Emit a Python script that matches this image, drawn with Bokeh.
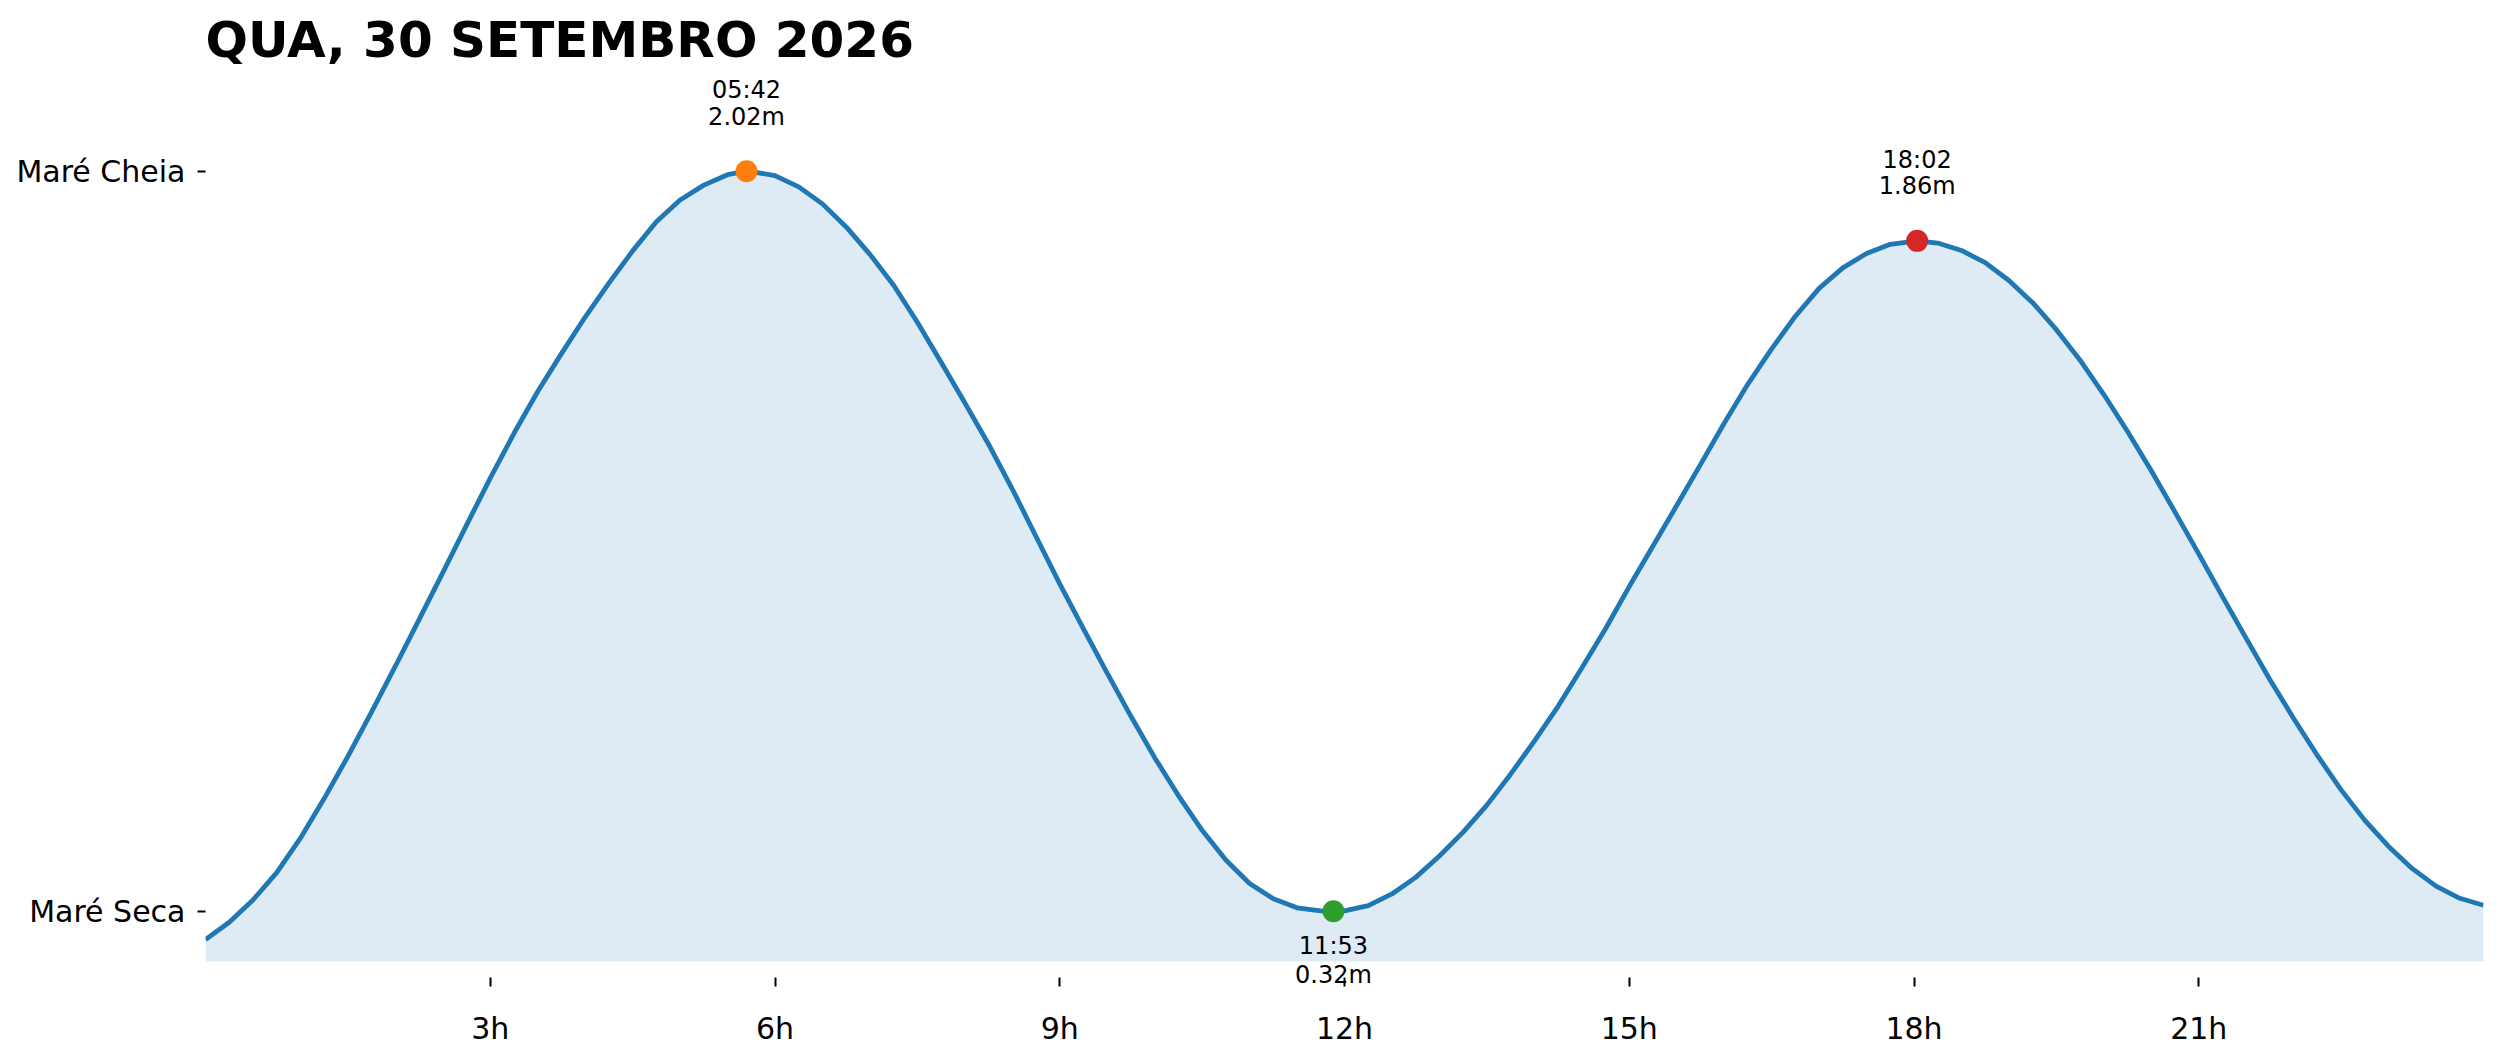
from bokeh.plotting import figure
from bokeh.models import Label, FixedTicker, Range1d
from bokeh.embed import file_html
from bokeh.resources import INLINE

# ---------------- data ----------------
TITLE = "QUA, 30 SETEMBRO 2026"

# tide height (m) every quarter hour
curve_hours = [0.00, 0.25, 0.50, 0.75, 1.00, 1.25, 1.50, 1.75, 2.00, 2.25, 2.50, 2.75,
               3.00, 3.25, 3.50, 3.75, 4.00, 4.25, 4.50, 4.75, 5.00, 5.25, 5.50, 5.75,
               6.00, 6.25, 6.50, 6.75, 7.00, 7.25, 7.50, 7.75, 8.00, 8.25, 8.50, 8.75,
               9.00, 9.25, 9.50, 9.75, 10.00, 10.25, 10.50, 10.75, 11.00, 11.25, 11.50, 11.75,
               12.00, 12.25, 12.50, 12.75, 13.00, 13.25, 13.50, 13.75, 14.00, 14.25, 14.50, 14.75,
               15.00, 15.25, 15.50, 15.75, 16.00, 16.25, 16.50, 16.75, 17.00, 17.25, 17.50, 17.75,
               18.25, 18.50, 18.75, 19.00, 19.25, 19.50, 19.75, 20.00, 20.25, 20.50, 20.75,
               21.00, 21.25, 21.50, 21.75, 22.00, 22.25, 22.50, 22.75, 23.00, 23.25, 23.50, 23.75, 24.00]
curve_heights = [0.255, 0.295, 0.346, 0.409, 0.488, 0.579, 0.676, 0.778, 0.883, 0.990, 1.098, 1.207,
                 1.315, 1.418, 1.514, 1.601, 1.685, 1.763, 1.837, 1.904, 1.954, 1.988, 2.012, 2.019,
                 2.010, 1.984, 1.945, 1.892, 1.829, 1.758, 1.673, 1.581, 1.488, 1.393, 1.290, 1.181,
                 1.072, 0.969, 0.867, 0.768, 0.673, 0.586, 0.506, 0.438, 0.384, 0.349, 0.328, 0.321,
                 0.321, 0.333, 0.360, 0.398, 0.447, 0.502, 0.564, 0.635, 0.711, 0.791, 0.879, 0.969,
                 1.066, 1.159, 1.252, 1.346, 1.441, 1.531, 1.612, 1.687, 1.751, 1.798, 1.831, 1.852,
                 1.855, 1.838, 1.810, 1.769, 1.718, 1.656, 1.586, 1.507, 1.422, 1.332, 1.237,
                 1.141, 1.043, 0.947, 0.852, 0.763, 0.678, 0.599, 0.529, 0.469, 0.418, 0.378, 0.350, 0.334]

# tide extremes
ext_times = ["05:42", "11:53", "18:02"]
ext_heights = [2.02, 0.32, 1.86]
ext_kind = ["high", "low", "high"]

# axis ticks
x_tick_hours = [3, 6, 9, 12, 15, 18, 21]
x_tick_labels = ["3h", "6h", "9h", "12h", "15h", "18h", "21h"]
y_tick_labels = ["Maré Seca", "Maré Cheia"]

# ---------------- styling ----------------
LINE_COLOR = "#1f77b4"
DOT_COLORS = ["#ff7f0e", "#2ca02c", "#d62728"]
FONT = "DejaVu Sans"


def to_hours(s):
    h, m = s.split(":")
    return int(h) + int(m) / 60.0


ext_hours = [to_hours(t) for t in ext_times]

# merge curve readings with the extremes
pts = sorted(list(zip(curve_hours, curve_heights)) + list(zip(ext_hours, ext_heights)))
xs = [a for a, _ in pts]
ys = [b for _, b in pts]
baseline = min(ys) - 0.05

p = figure(width=2500, height=1060, output_backend="svg", toolbar_location=None,
           x_range=Range1d(0, 24), y_range=Range1d(0.1267, 2.4121),
           min_border_left=205, min_border_right=17, min_border_top=0, min_border_bottom=65)

p.background_fill_color = "white"
p.border_fill_color = "white"
p.outline_line_color = None
p.xgrid.visible = False
p.ygrid.visible = False

p.varea(x=xs, y1=[baseline] * len(xs), y2=ys, fill_color=LINE_COLOR, fill_alpha=0.15)
p.line(xs, ys, line_color=LINE_COLOR, line_width=4.8)
p.scatter(ext_hours, ext_heights, size=22, fill_color=DOT_COLORS, line_color=None)

# title, anchored at the top-left corner of the plot area
p.add_layout(Label(x=p.x_range.start, y=p.y_range.end, y_offset=-39, text=TITLE,
                   text_align="left", text_baseline="alphabetic",
                   text_font=FONT, text_font_size="50px", text_font_style="bold",
                   text_color="black"))

# labels for the extremes: time and height
for h, v, t, k in zip(ext_hours, ext_heights, ext_times, ext_kind):
    if k == "high":
        offs = (81, 54.5)
    else:
        offs = (-35, -63.5)
    for txt, off in zip((t, "%.2fm" % v), offs):
        p.add_layout(Label(x=h, y=v, text=txt, y_offset=off,
                           text_align="center", text_baseline="alphabetic",
                           text_font=FONT, text_font_size="24px", text_color="black"))

# x axis (ticks sit a little below the filled area)
xa = p.xaxis[0]
xa.ticker = FixedTicker(ticks=x_tick_hours)
xa.major_label_overrides = {h: l for h, l in zip(x_tick_hours, x_tick_labels)}
xa.axis_line_color = None
xa.major_tick_in = 18
xa.major_tick_out = -9
xa.minor_tick_in = 0
xa.minor_tick_out = -9
xa.major_tick_line_width = 2
xa.minor_tick_line_color = None
xa.major_label_standoff = 15
xa.major_label_text_font = FONT
xa.major_label_text_font_size = "30px"
xa.major_label_text_color = "black"

# y axis
y_ticks = [min(ext_heights), max(ext_heights)]
ya = p.yaxis[0]
ya.ticker = FixedTicker(ticks=y_ticks)
ya.major_label_overrides = {v: l for v, l in zip(y_ticks, y_tick_labels)}
ya.axis_line_color = None
ya.major_tick_in = 0
ya.major_tick_out = 8
ya.major_tick_line_width = 2
ya.minor_tick_line_color = None
ya.major_label_standoff = 12
ya.major_label_text_font = FONT
ya.major_label_text_font_size = "30px"
ya.major_label_text_color = "black"

open("out.html", "w").write(file_html(p, INLINE))
